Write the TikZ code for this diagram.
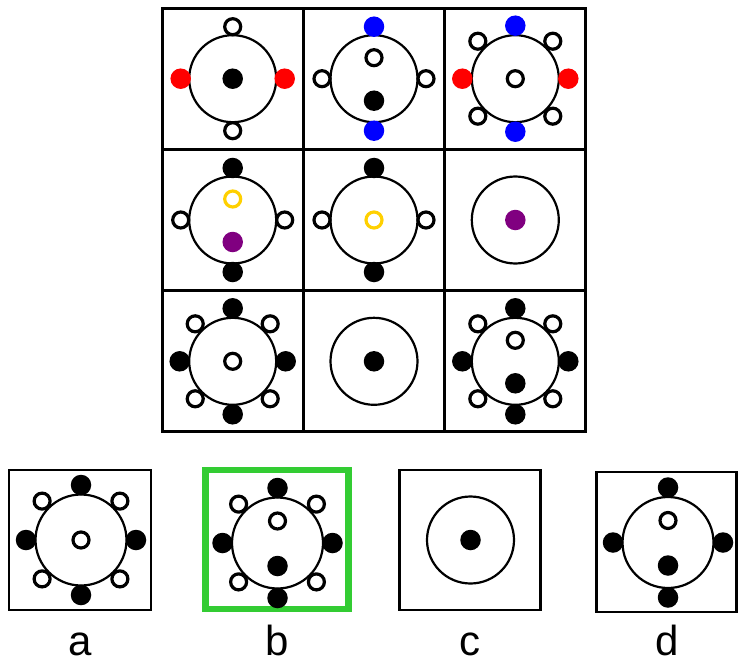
\documentclass[tikz,border=0pt]{standalone}
\usepackage{fontspec}
\setmainfont{Liberation Sans}
\definecolor{cred}{HTML}{FF0000}
\definecolor{cblue}{HTML}{0000FF}
\definecolor{cyellow}{HTML}{FFD000}
\definecolor{cpurple}{HTML}{800080}
\definecolor{cgreen}{HTML}{33CC33}

\begin{document}
\begin{tikzpicture}[x=1pt,y=-1pt,
  cell/.style={draw,line width=3pt,minimum size=141.3pt,inner sep=0pt},
  ring/.style={draw,circle,line width=2.2pt,minimum size=87pt,inner sep=0pt},
  bigring/.style={ring,minimum size=91pt},
  fdot/.style={circle,fill=black,minimum size=20.5pt,inner sep=0pt},
  odot/.style={circle,draw,line width=3.2pt,fill=white,minimum size=16pt,inner sep=0pt},
  rdot/.style={fdot,fill=cred},
  bldot/.style={fdot,fill=cblue},
  pdot/.style={fdot,fill=cpurple},
  ydot/.style={odot,draw=cyellow},
  lbl/.style={font=\fontsize{42}{44}\selectfont,anchor=base}]
  \useasboundingbox (0,0) rectangle (746,663);
  % grid of nine cells
  \node[cell] (c11) at (232.7,78.7) {};
  \node[cell] (c12) at (374,78.7) {};
  \node[cell] (c13) at (515.3,78.7) {};
  \node[cell] (c21) at (232.7,220) {};
  \node[cell] (c22) at (374,220) {};
  \node[cell] (c23) at (515.3,220) {};
  \node[cell] (c31) at (232.7,361.3) {};
  \node[cell] (c32) at (374,361.3) {};
  \node[cell] (c33) at (515.3,361.3) {};
  \foreach \c in {11,12,13,21,22,23,31,32,33}
    \node[ring] (r\c) at (c\c) {};
  % row 1
  \node[fdot] (r11m) at (r11) {};
  \foreach \a/\s in {90/odot,270/odot,0/rdot,180/rdot}
    \node[\s] (r11d\a) at ([shift={(\a:52)}]r11) {};
  \node[odot] (r12t) at ([shift={(0,-21)}]r12) {};
  \node[fdot] (r12b) at ([shift={(0,22)}]r12) {};
  \foreach \a/\s in {90/bldot,270/bldot,0/odot,180/odot}
    \node[\s] (r12d\a) at ([shift={(\a:52)}]r12) {};
  \node[odot] (r13m) at (r13) {};
  \foreach \a/\s in {90/bldot,270/bldot,0/rdot,180/rdot,45/odot,135/odot,225/odot,315/odot}
    \node[\s] (r13d\a) at ([shift={(\a:53)}]r13) {};
  % row 2
  \node[ydot] (r21t) at ([shift={(0,-21)}]r21) {};
  \node[pdot] (r21b) at ([shift={(0,22)}]r21) {};
  \foreach \a/\s in {90/fdot,270/fdot,0/odot,180/odot}
    \node[\s] (r21d\a) at ([shift={(\a:52)}]r21) {};
  \node[ydot] (r22m) at (r22) {};
  \foreach \a/\s in {90/fdot,270/fdot,0/odot,180/odot}
    \node[\s] (r22d\a) at ([shift={(\a:52)}]r22) {};
  \node[pdot] (r23m) at (r23) {};
  % row 3
  \node[odot] (r31m) at (r31) {};
  \foreach \a/\s in {90/fdot,270/fdot,0/fdot,180/fdot,45/odot,135/odot,225/odot,315/odot}
    \node[\s] (r31d\a) at ([shift={(\a:53)}]r31) {};
  \node[fdot] (r32m) at (r32) {};
  \node[odot] (r33t) at ([shift={(0,-21)}]r33) {};
  \node[fdot] (r33b) at ([shift={(0,22)}]r33) {};
  \foreach \a/\s in {90/fdot,270/fdot,0/fdot,180/fdot,45/odot,135/odot,225/odot,315/odot}
    \node[\s] (r33d\a) at ([shift={(\a:53)}]r33) {};

  % answer options
  \node[cell,line width=2.5pt,minimum width=142pt,minimum height=140pt] (oa) at (80,540) {};
  \node[cell,draw=cgreen,line width=6.5pt,minimum width=143pt,minimum height=139pt] (ob) at (277,539.5) {};
  \node[cell,line width=2.5pt,minimum width=141pt,minimum height=140pt] (oc) at (470,540) {};
  \node[cell,line width=2.5pt,minimum width=140pt,minimum height=140pt] (od) at (666.5,542) {};
  \node[bigring] (ra) at (81,540) {};
  \node[bigring] (rb) at (277.5,543) {};
  \node[ring] (rc) at (470.5,540) {};
  \node[bigring] (rd) at (668,542.5) {};
  \node[odot] (ram) at (ra) {};
  \foreach \a/\s in {90/fdot,270/fdot,0/fdot,180/fdot,45/odot,135/odot,225/odot,315/odot}
    \node[\s] (rad\a) at ([shift={(\a:55)}]ra) {};
  \node[odot] (rbt) at ([shift={(0,-22)}]rb) {};
  \node[fdot] (rbb) at ([shift={(0,23)}]rb) {};
  \foreach \a/\s in {90/fdot,270/fdot,0/fdot,180/fdot,45/odot,135/odot,225/odot,315/odot}
    \node[\s] (rbd\a) at ([shift={(\a:55)}]rb) {};
  \node[fdot] (rcm) at (rc) {};
  \node[odot] (rdt) at ([shift={(0,-22)}]rd) {};
  \node[fdot] (rdb) at ([shift={(0,23)}]rd) {};
  \foreach \a/\s in {90/fdot,270/fdot,0/fdot,180/fdot}
    \node[\s] (rdd\a) at ([shift={(\a:55)}]rd) {};
  % option letters
  \node[lbl] (la) at (80,655) {a};
  \node[lbl] (lb) at (277,655) {b};
  \node[lbl] (lc) at (470,655) {c};
  \node[lbl] (ld) at (667,655) {d};
\end{tikzpicture}
\end{document}
